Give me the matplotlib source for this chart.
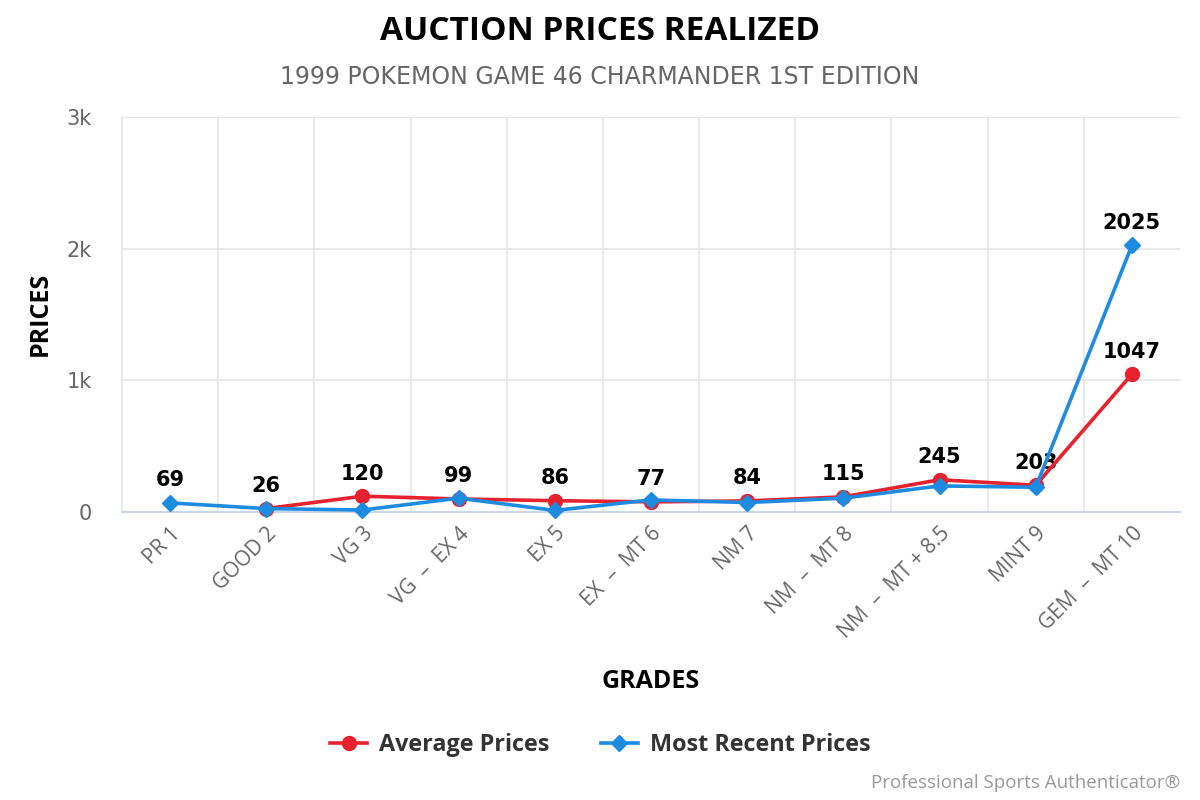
import matplotlib
matplotlib.use("Agg")
import matplotlib.pyplot as plt
import numpy as np
from matplotlib.lines import Line2D

grades = ["PR 1", "GOOD 2", "VG 3", "VG – EX 4", "EX 5", "EX – MT 6", "NM 7",
          "NM – MT 8", "NM – MT + 8.5", "MINT 9", "GEM – MT 10"]
average_prices = [np.nan, 26, 120, 99, 86, 77, 84, 115, 245, 203, 1047]
recent_prices = [69, 26, 15, 105, 12, 92, 72, 105, 198, 188, 2025]
y_ticks = [0, 1000, 2000, 3000]
y_tick_labels = ["0", "1k", "2k", "3k"]
avg_label_idx = [1, 2, 3, 4, 5, 6, 7, 8, 9, 10]
recent_label_idx = [0, 10]

RED = "#e8212e"
BLUE = "#1c8be0"
GRID = "#e6e6e6"

fig = plt.figure(figsize=(12, 8), dpi=100)
ax = fig.add_axes([122/1200, 1-512/800, (1180-122)/1200, (512-117)/800])

x = np.arange(len(grades))
ax.plot(x, average_prices, color=RED, lw=2.6, marker="o", ms=10, zorder=3, clip_on=False)
ax.plot(x, recent_prices, color=BLUE, lw=2.6, marker="D", ms=8, zorder=4, clip_on=False)

for i in avg_label_idx:
    ax.annotate(f"{average_prices[i]:.0f}", (x[i], average_prices[i]), xytext=(0, 9),
                textcoords="offset points", ha="center", va="bottom",
                fontsize=15, fontweight="bold", family="DejaVu Sans", color="black", zorder=2)
for i in recent_label_idx:
    ax.annotate(f"{recent_prices[i]:.0f}", (x[i], recent_prices[i]), xytext=(0, 9),
                textcoords="offset points", ha="center", va="bottom",
                fontsize=15, fontweight="bold", family="DejaVu Sans", color="black", zorder=2)

ax.set_xlim(-0.5, len(grades) - 0.5)
ax.set_ylim(0, 3000)
ax.set_yticks(y_ticks)
ax.set_yticklabels(y_tick_labels, fontsize=15, color="#666666", family="DejaVu Sans")
ax.set_xticks(x)
ax.set_xticklabels([g.replace(" – ", "  –  ") for g in grades], rotation=45, ha="right",
                   rotation_mode="anchor", fontsize=15, color="#666666", family="Open Sans")
ax.set_xticks(np.arange(0.5, len(grades) - 1, 1), minor=True)
ax.tick_params(axis="both", which="both", length=0)
ax.tick_params(axis="y", pad=22)
ax.tick_params(axis="x", pad=8)
ax.grid(axis="y", which="major", color=GRID, lw=1.2)
ax.grid(axis="x", which="minor", color=GRID, lw=1.2)
for s in ["top", "right"]:
    ax.spines[s].set_visible(False)
ax.spines["left"].set_color(GRID)
ax.spines["left"].set_linewidth(1.2)
ax.spines["bottom"].set_color("#ccd6eb")
ax.spines["bottom"].set_linewidth(1.5)
ax.set_axisbelow(True)

fig.text(0.5, 1-32/800, "AUCTION PRICES REALIZED", ha="center", va="center",
         fontsize=24, fontweight="bold", family="Open Sans", color="black")
fig.text(0.5, 1-77/800, "1999 POKEMON GAME 46 CHARMANDER 1ST EDITION", ha="center", va="center",
         fontsize=17, family="DejaVu Sans", color="#666666")
fig.text(651/1200, 1-681/800, "GRADES", ha="center", va="center",
         fontsize=18, fontweight="bold", family="Open Sans", color="black")
fig.text(40/1200, 1-314/800, "PRICES", ha="center", va="center", rotation=90,
         fontsize=18, fontweight="bold", family="Open Sans", color="black")
fig.text(1180/1200, 1-783/800, "Professional Sports Authenticator®", ha="right", va="center",
         fontsize=13.5, family="Open Sans", color="#999999")

handles = [Line2D([], [], color=RED, lw=2.6, marker="o", ms=10),
           Line2D([], [], color=BLUE, lw=2.6, marker="D", ms=8)]
leg = fig.legend(handles, ["Average Prices", "Most Recent Prices"], loc="center",
                 bbox_to_anchor=(600/1200, 1-745/800), ncol=2, frameon=False,
                 prop={"family": "Open Sans", "weight": "bold", "size": 16.8},
                 handlelength=1.6, columnspacing=2.2, handletextpad=0.5)
for t in leg.get_texts():
    t.set_color("#333333")

fig.savefig("out.png", dpi=100)
